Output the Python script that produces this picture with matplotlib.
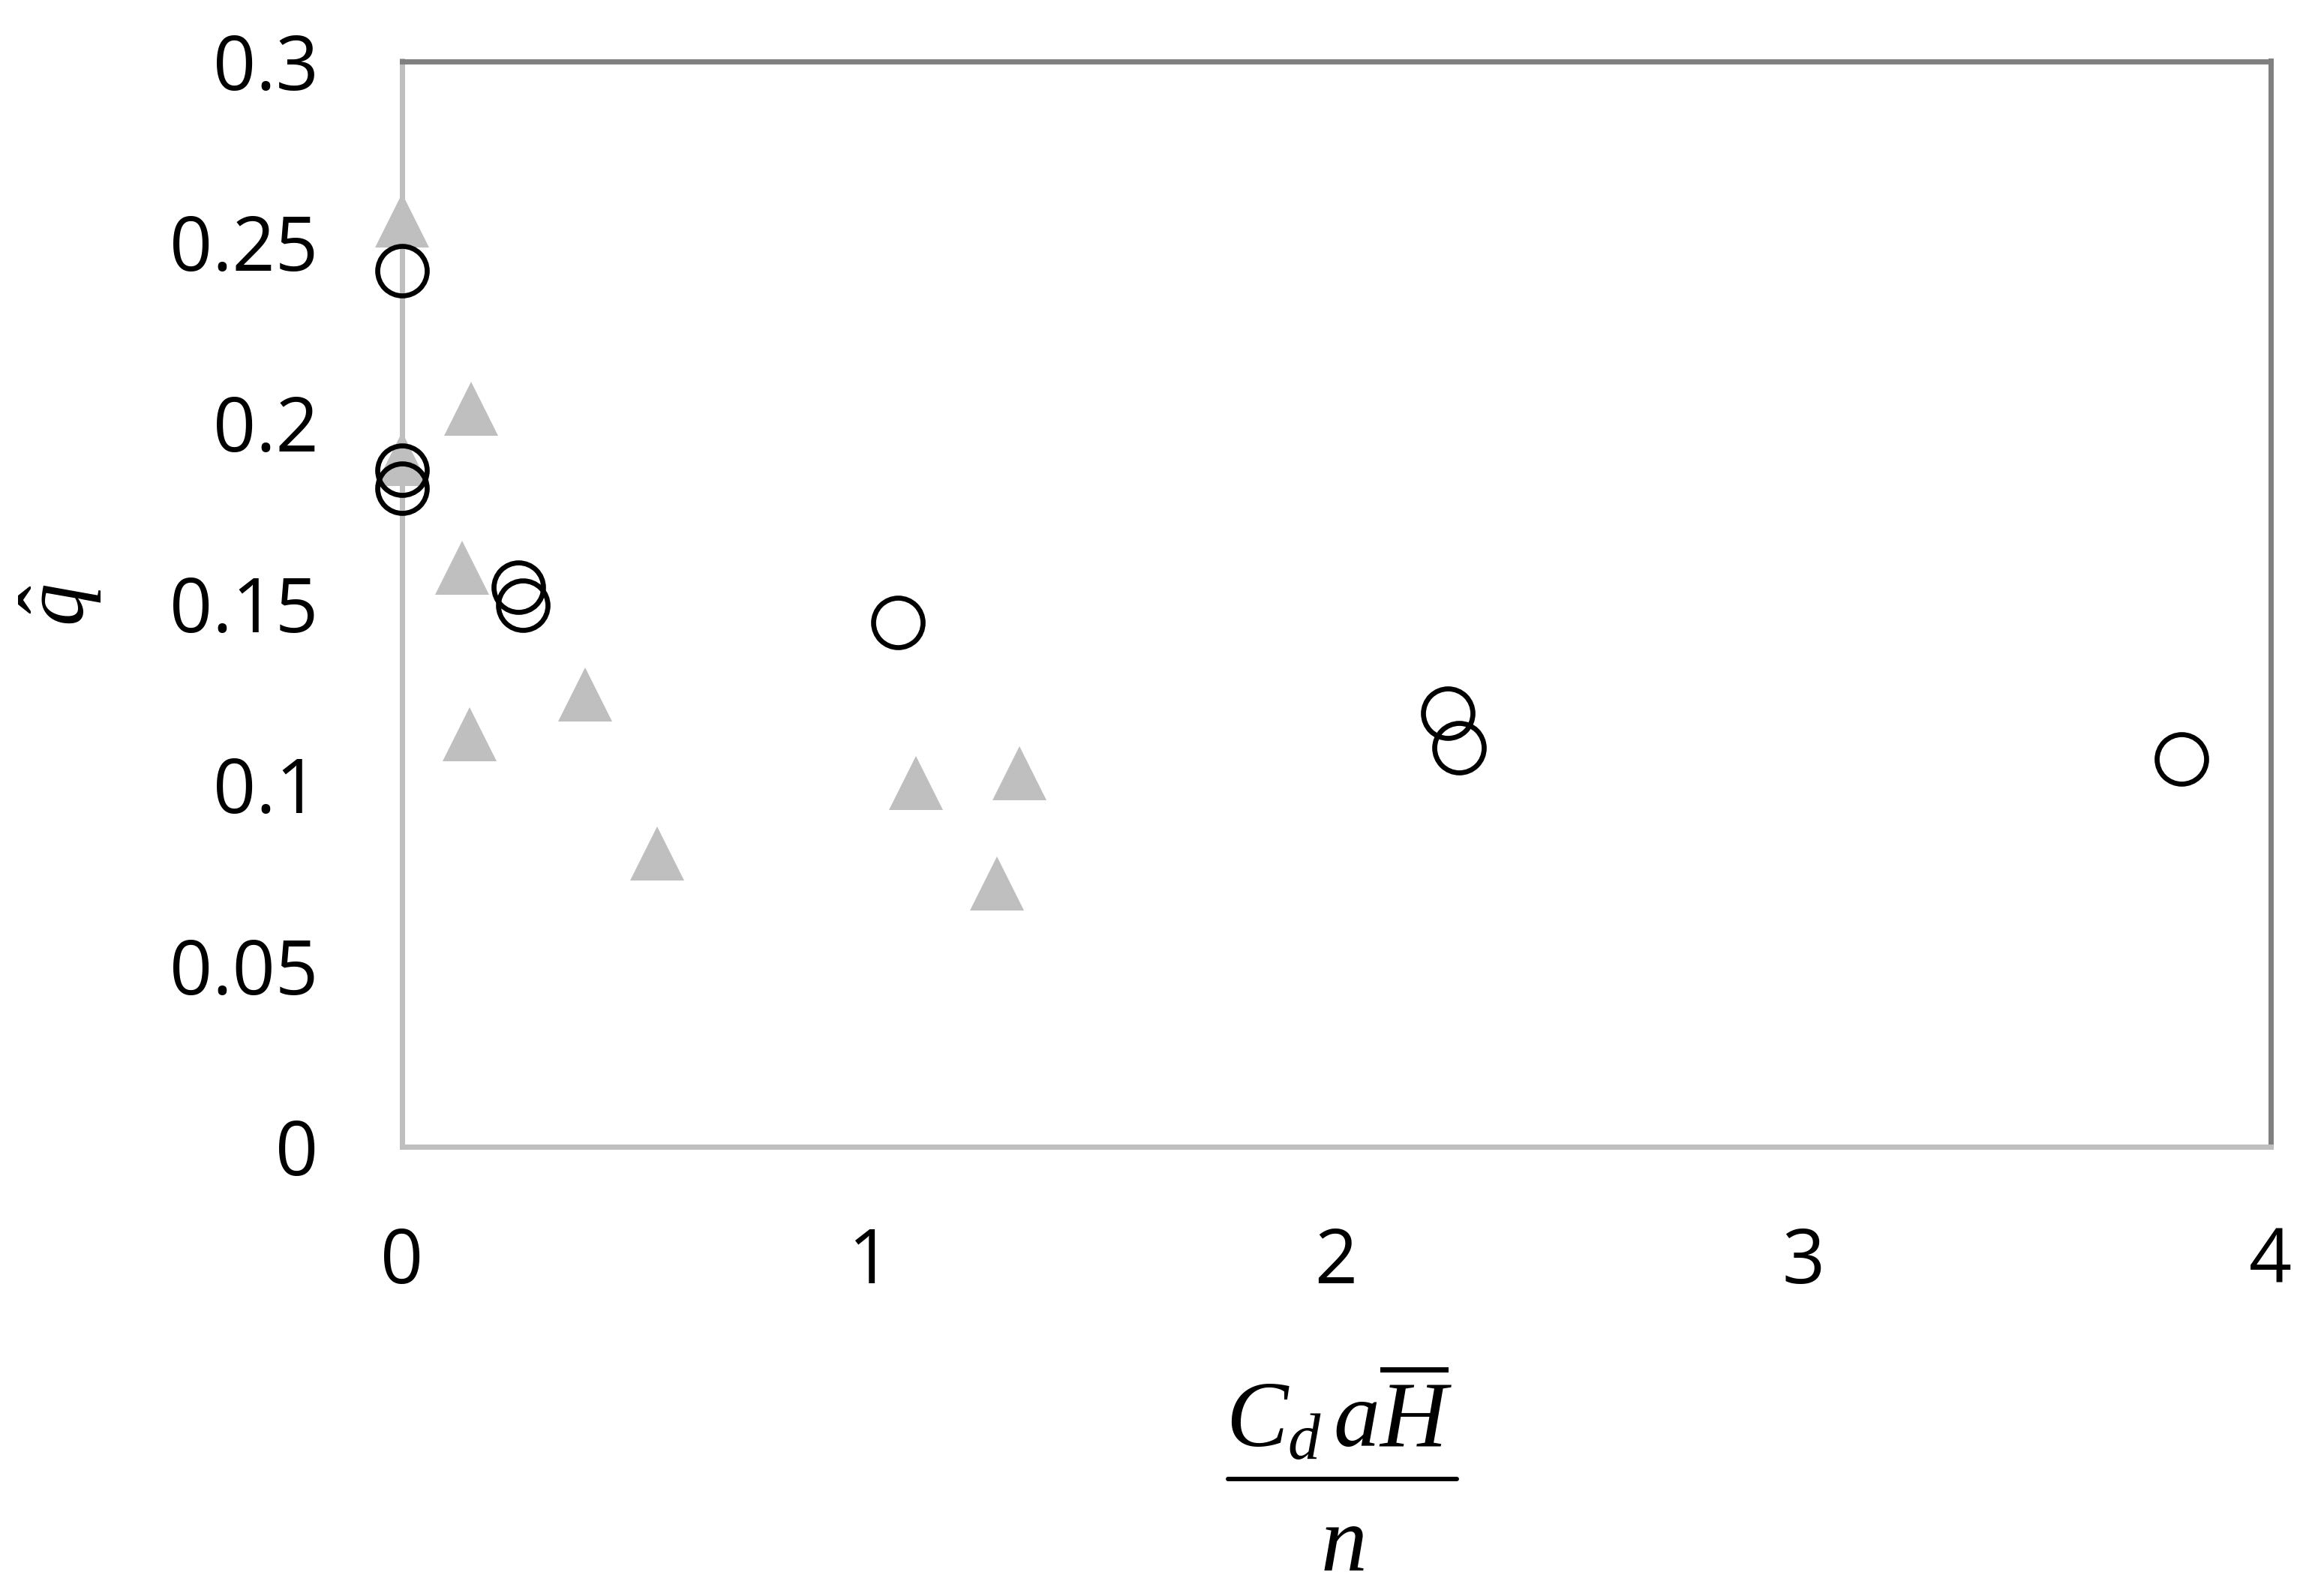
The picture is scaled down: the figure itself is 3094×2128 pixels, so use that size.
import matplotlib
matplotlib.use("Agg")
import matplotlib.pyplot as plt
from matplotlib.lines import Line2D

# circles (open markers)
circle_x = [0.0, 0.0, 0.0, 0.25, 0.26, 1.062, 2.24, 2.263, 3.81]
circle_y = [0.242, 0.187, 0.182, 0.1545, 0.1496, 0.1448, 0.1197, 0.1102, 0.107]

# triangles (grey filled)
tri_x = [0.0, 0.0, 0.149, 0.13, 0.146, 0.392, 0.547, 1.10, 1.322, 1.274]
tri_y = [0.256, 0.19, 0.204, 0.160, 0.114, 0.125, 0.081, 0.1004, 0.1031, 0.0727]

x_ticks = [0, 1, 2, 3, 4]
y_ticks = [0, 0.05, 0.1, 0.15, 0.2, 0.25, 0.3]
y_tick_labels = ["0", "0.05", "0.1", "0.15", "0.2", "0.25", "0.3"]

W, H = 3094, 2128

plt.rcParams['font.family'] = ['Open Sans', 'DejaVu Sans']
plt.rcParams['mathtext.fontset'] = 'custom'
plt.rcParams['mathtext.rm'] = 'Liberation Serif'
plt.rcParams['mathtext.it'] = 'Liberation Serif:italic'

fig = plt.figure(figsize=(W / 100, H / 100), dpi=100)
ax = fig.add_axes([535.5 / W, 1 - 1528.5 / H,
                   (3026.5 - 535.5) / W, (1528.5 - 81.5) / H])

ax.plot(tri_x, tri_y, linestyle='none', marker='^', markersize=52,
        markerfacecolor='#bfbfbf', markeredgewidth=0, clip_on=False, zorder=3)
ax.plot(circle_x, circle_y, linestyle='none', marker='o', markersize=47.5,
        markerfacecolor='none', markeredgecolor='black', markeredgewidth=4.8,
        clip_on=False, zorder=4)

ax.set_xlim(0, 4)
ax.set_ylim(0, 0.3)
ax.set_xticks(x_ticks)
ax.set_yticks(y_ticks)
ax.set_yticklabels(y_tick_labels)
ax.tick_params(length=0, labelsize=72)
ax.tick_params(axis='y', pad=80)
ax.tick_params(axis='x', pad=76)

for side in ['top', 'right']:
    ax.spines[side].set_color('#808080')
    ax.spines[side].set_linewidth(5)
for side in ['left', 'bottom']:
    ax.spines[side].set_color('#bfbfbf')
    ax.spines[side].set_linewidth(5)

# x label as a built-up fraction
xc = 1789 / W
fig.text(xc - 4 / W, 1 - 1930 / H, r'$C_d\, a \overline{H}$', fontsize=89,
         ha='center', va='baseline')
fig.add_artist(Line2D([1637 / W, 1942 / W], [1 - 1972 / H, 1 - 1972 / H],
                      color='black', linewidth=4.3, solid_capstyle='round'))
fig.text(xc, 1 - 2094 / H, r'$n$', fontsize=89, ha='center', va='baseline')

fig.text(0.0265, 1 - 807 / H, r'$\hat{q}$', fontsize=82,
         rotation=90, ha='center', va='center')

fig.savefig('out.png', dpi=100)
